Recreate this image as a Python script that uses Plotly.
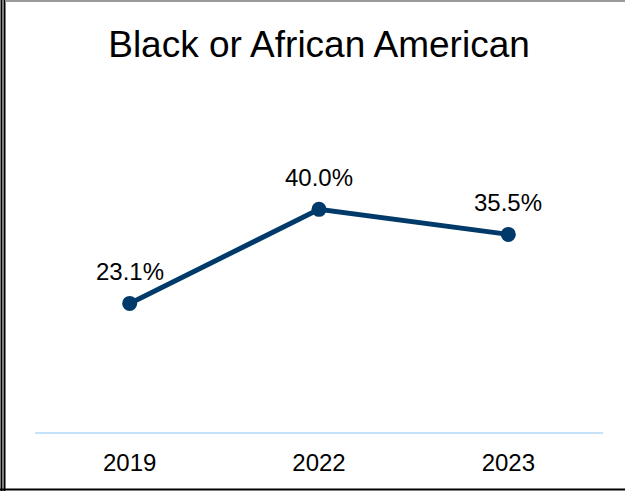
import plotly.graph_objects as go

years = ["2019", "2022", "2023"]
values = [23.1, 40.0, 35.5]
labels = ["23.1%", "40.0%", "35.5%"]
title = "Black or African American"

W, H = 625, 491
L, R, T, B = 35, 22, 98, 59
pw, ph = W - L - R, H - T - B

def px(x):
    return (x - L) / pw

def py(y):
    return (H - B - y) / ph

FONT = "Liberation Sans, Arial"
NAVY = "#003a6b"

fig = go.Figure()
fig.add_trace(go.Scatter(
    x=years, y=values, mode="lines+markers",
    line=dict(color=NAVY, width=5),
    marker=dict(color=NAVY, size=15),
    cliponaxis=False, hoverinfo="skip",
))

annotations = [
    dict(x=i, y=yv, xref="x", yref="y", text=t, showarrow=False,
         yanchor="middle", xanchor="center", yshift=32,
         font=dict(family=FONT, size=24, color="#000000"))
    for i, (yv, t) in enumerate(zip(values, labels))
]

shapes = [
    dict(type="line", xref="paper", yref="paper", x0=px(1.5), x1=px(1.5), y0=py(0), y1=py(H), line=dict(color="black", width=2)),
    dict(type="line", xref="paper", yref="paper", x0=px(4.5), x1=px(4.5), y0=py(0), y1=py(H), line=dict(color="black", width=2)),
    dict(type="line", xref="paper", yref="paper", x0=px(5), x1=px(W), y0=py(1), y1=py(1), line=dict(color="#9a9a9a", width=2)),
    dict(type="line", xref="paper", yref="paper", x0=px(0), x1=px(W), y0=py(489.5), y1=py(489.5), line=dict(color="black", width=2)),
]

fig.update_layout(
    width=W, height=H,
    margin=dict(l=L, r=R, t=T, b=B),
    paper_bgcolor="white", plot_bgcolor="white",
    showlegend=False,
    title=dict(text=title, x=0.5, xref="paper", xanchor="center", y=1 - 44 / H, yanchor="middle",
               font=dict(family=FONT, size=37, color="#000000")),
    xaxis=dict(type="category", range=[-0.5, 2.5], showgrid=False, zeroline=False,
               showline=True, linecolor="#c5e2f8", linewidth=2, ticks="",
               tickfont=dict(family=FONT, size=24, color="#000000"),
               ticklabelstandoff=8),
    yaxis=dict(range=[0, 60], visible=False, showgrid=False, zeroline=False),
    shapes=shapes,
    annotations=annotations,
)

fig.write_html("out.html", config={"displayModeBar": False},
               post_script="document.body.style.margin='0';document.body.style.overflow='hidden';")
